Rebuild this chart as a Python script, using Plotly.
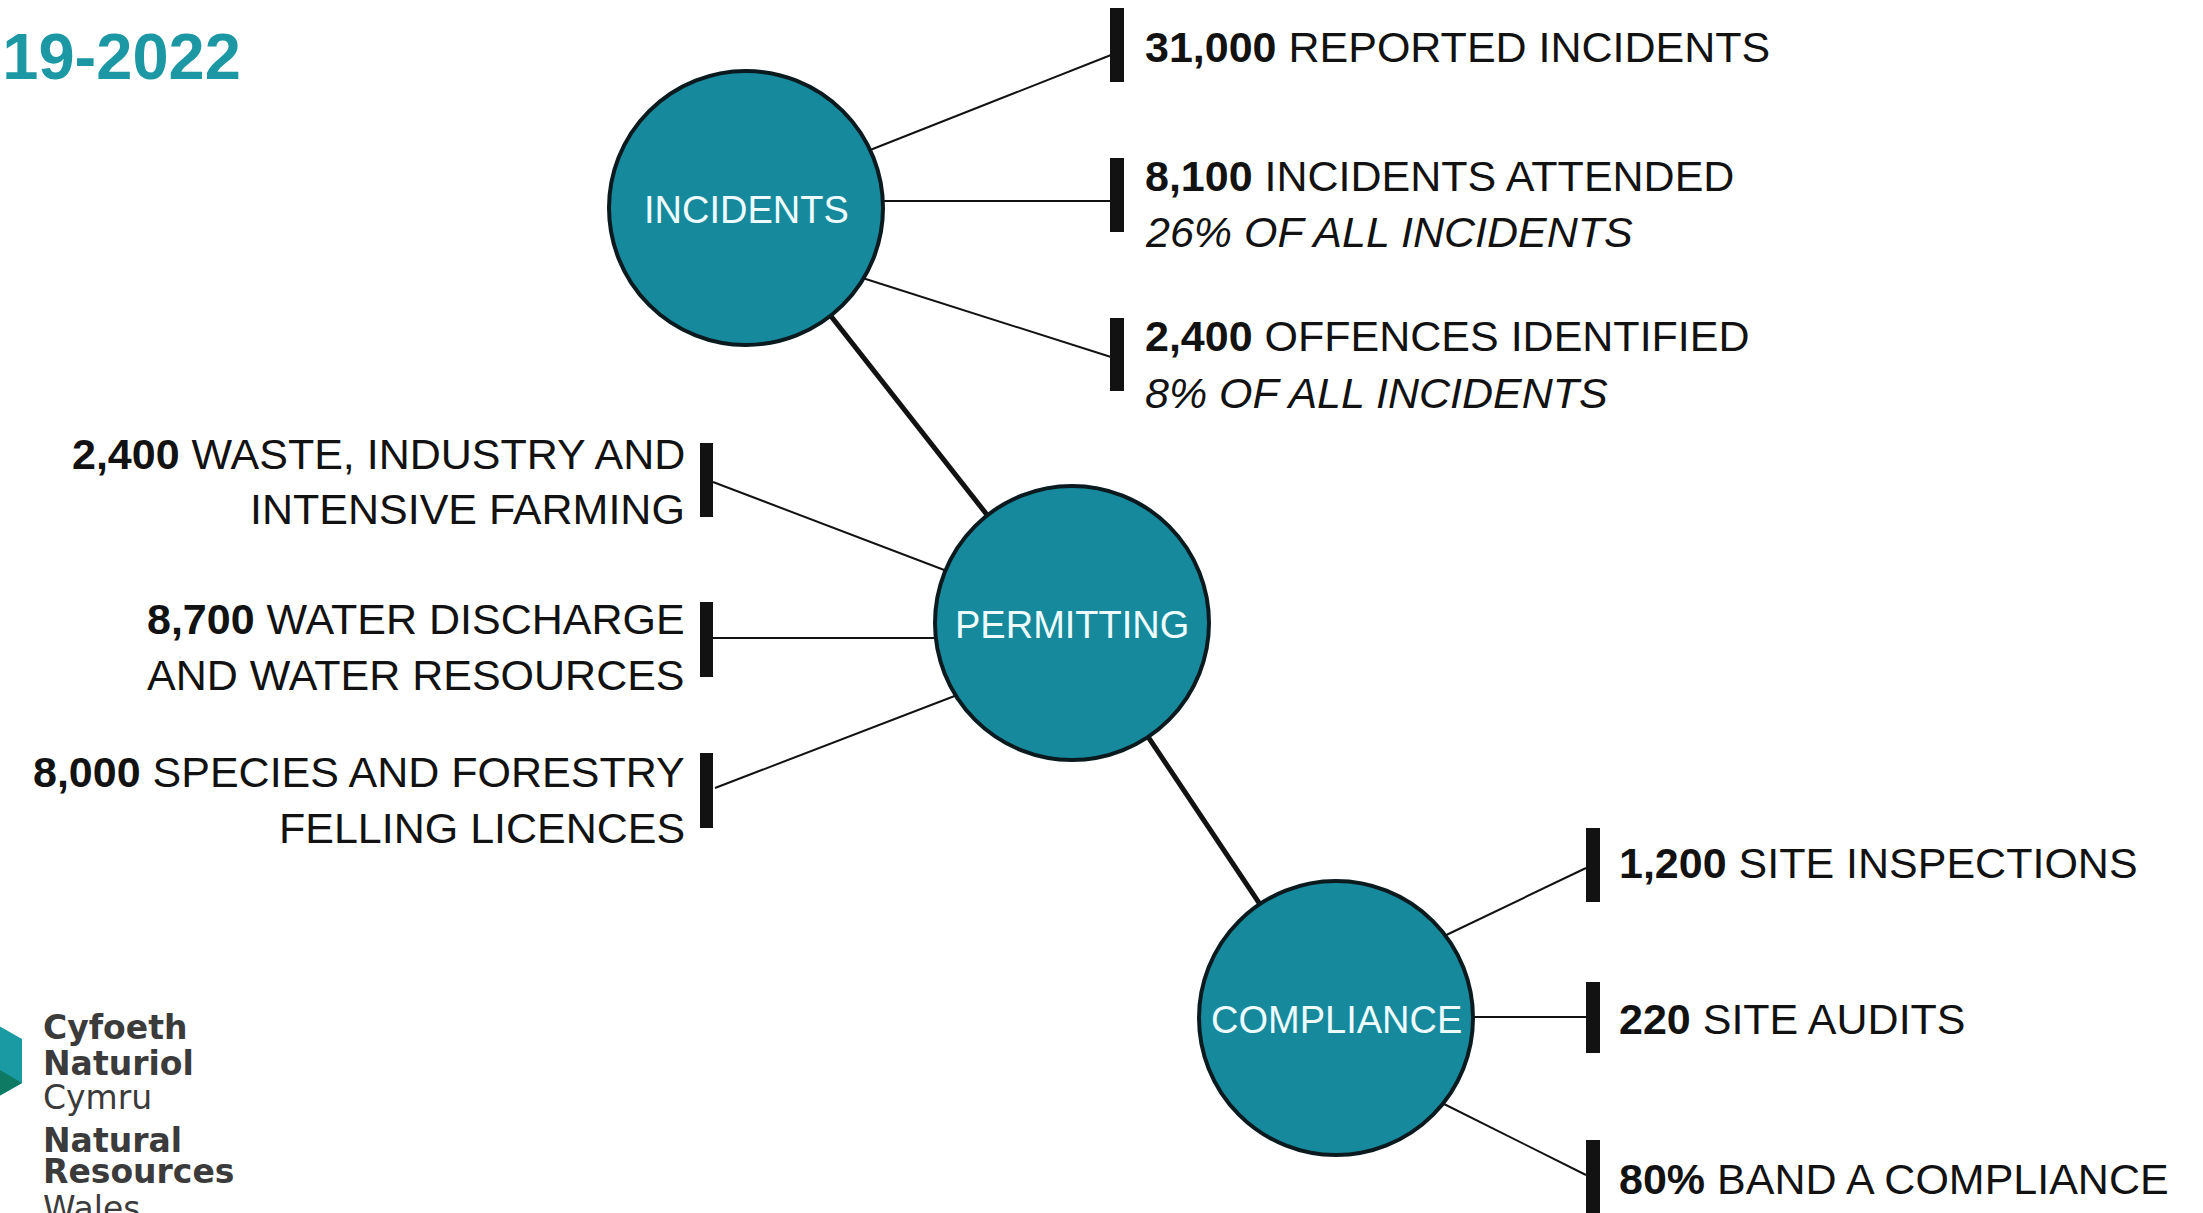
import plotly.graph_objects as go

W, H = 2203, 1213

# ---------------- data ----------------
hubs = ["INCIDENTS", "PERMITTING", "COMPLIANCE"]

incident_values = ["31,000", "8,100", "2,400"]
incident_labels = ["REPORTED INCIDENTS", "INCIDENTS ATTENDED", "OFFENCES IDENTIFIED"]
incident_notes = ["", "26% OF ALL INCIDENTS", "8% OF ALL INCIDENTS"]

permitting_values = ["2,400", "8,700", "8,000"]
permitting_line1 = ["WASTE, INDUSTRY AND", "WATER DISCHARGE", "SPECIES AND FORESTRY"]
permitting_line2 = ["INTENSIVE FARMING", "AND WATER RESOURCES", "FELLING LICENCES"]

compliance_values = ["1,200", "220", "80%"]
compliance_labels = ["SITE INSPECTIONS", "SITE AUDITS", "BAND A COMPLIANCE"]

period = "2019-2022"
logo_lines = ["Cyfoeth", "Naturiol", "Cymru", "Natural", "Resources", "Wales"]
logo_bold = [True, True, False, True, True, False]

# ---------------- layout (positions / styles) ----------------
FONT = "Liberation Sans, Arial, sans-serif"
TEXT_SIZE = 43
INK = "#121212"
TEAL = "#168a9c"
DY = 2  # vertical correction of annotation boxes

hub_pos = {"INCIDENTS": (746, 208), "PERMITTING": (1072, 623), "COMPLIANCE": (1336, 1018)}
R = 137

inc_bar_x = (1110, 1124)
inc_bar_y = [(8, 82), (158, 232), (318, 391)]
inc_lines = [((860, 154), (1111, 55)), ((860, 201), (1111, 201)), ((850, 274), (1111, 357))]
inc_text_x = 1143
inc_text_y = [45, 174, 334]
inc_note_y = [None, 230, 391]

per_bar_x = (700, 713)
per_bar_y = [(443, 517), (602, 677), (753, 828)]
per_lines = [((713, 482), (960, 576)), ((713, 638), (960, 638)), ((715, 788), (965, 692))]
per_text_x = 687
per_text_y = [(452, 507), (617, 673), (770, 826)]

com_bar_x = (1586, 1600)
com_bar_y = [(828, 902), (982, 1053), (1140, 1220)]
com_lines = [((1440, 938), (1586, 868)), ((1460, 1017), (1586, 1017)), ((1436, 1100), (1586, 1175))]
com_text_x = 1617
com_text_y = [861, 1017, 1177]

logo_x = 41
logo_y = [1027, 1063, 1097, 1140, 1171, 1208]

fig = go.Figure()
shapes = []
annotations = []

def seg(p0, p1, width, color=INK):
    shapes.append(dict(type="line", xref="x", yref="y", x0=p0[0], y0=p0[1], x1=p1[0], y1=p1[1],
                       line=dict(color=color, width=width)))

def bar(xr, yr):
    shapes.append(dict(type="rect", xref="x", yref="y", x0=xr[0], x1=xr[1], y0=yr[0], y1=yr[1],
                       fillcolor=INK, line=dict(width=0)))

def text(x, y, s, anchor="left", size=TEXT_SIZE, color=INK, family=FONT, dy=DY):
    annotations.append(dict(x=x, y=y + dy, xref="x", yref="y", text=s, showarrow=False,
                            xanchor=anchor, yanchor="middle", align=anchor,
                            font=dict(family=family, size=size, color=color)))

# thick connectors between hubs
for a, b in zip(hubs[:-1], hubs[1:]):
    seg(hub_pos[a], hub_pos[b], 5)

# thin branch lines + bars
for (p0, p1), yr in zip(inc_lines, inc_bar_y):
    seg(p0, p1, 2)
    bar(inc_bar_x, yr)
for (p0, p1), yr in zip(per_lines, per_bar_y):
    seg(p0, p1, 2)
    bar(per_bar_x, yr)
for (p0, p1), yr in zip(com_lines, com_bar_y):
    seg(p0, p1, 2)
    bar(com_bar_x, yr)

# hub circles
for h in hubs:
    cx, cy = hub_pos[h]
    shapes.append(dict(type="circle", xref="x", yref="y", x0=cx - R, x1=cx + R, y0=cy - R, y1=cy + R,
                       fillcolor=TEAL, line=dict(color="#0b1a1f", width=4)))
    text(cx, cy + 2, h, anchor="center", size=38, color="#eefcff", dy=0)

# incidents texts
for v, lab, note, y, ny in zip(incident_values, incident_labels, incident_notes, inc_text_y, inc_note_y):
    text(inc_text_x, y, f"<b>{v}</b> {lab}")
    if note:
        text(inc_text_x, ny, f"<i>{note}</i>")

# permitting texts (right aligned)
for v, l1, l2, (y1, y2) in zip(permitting_values, permitting_line1, permitting_line2, per_text_y):
    text(per_text_x, y1, f"<b>{v}</b> {l1}", anchor="right")
    text(per_text_x, y2, l2, anchor="right")

# compliance texts
for v, lab, y in zip(compliance_values, compliance_labels, com_text_y):
    text(com_text_x, y, f"<b>{v}</b> {lab}")

# period title (partly cut at left)
text(243, 53, f"<b>{period}</b>", anchor="right", size=65, color="#1c97a4", dy=3)

# logo hexagon (partly off-canvas)
shapes.append(dict(type="path", xref="x", yref="y",
                   path="M -15 1018 L 22 1039 L 22 1083 L -15 1104 L -52 1083 L -52 1039 Z",
                   fillcolor="#1a9aa3", line=dict(width=0)))
shapes.append(dict(type="path", xref="x", yref="y",
                   path="M -15 1061 L 22 1083 L -15 1104 L -52 1083 Z",
                   fillcolor="#0e7a63", line=dict(width=0)))
for s, b, y in zip(logo_lines, logo_bold, logo_y):
    text(logo_x, y, f"<b>{s}</b>" if b else s, size=33, color="#3b3b3b",
         family="DejaVu Sans, Verdana, sans-serif", dy=0)

fig.update_layout(
    width=W, height=H, autosize=False,
    margin=dict(l=0, r=0, t=0, b=0, pad=0),
    paper_bgcolor="white", plot_bgcolor="white",
    xaxis=dict(range=[0, W], visible=False, fixedrange=True),
    yaxis=dict(range=[H, 0], visible=False, fixedrange=True),
    shapes=shapes, annotations=annotations, showlegend=False,
)

# remove the default page margin so the figure fills the window exactly
fig.write_html("out.html", config={"displayModeBar": False},
               post_script="document.body.style.margin='0px';document.body.style.overflow='hidden';")
